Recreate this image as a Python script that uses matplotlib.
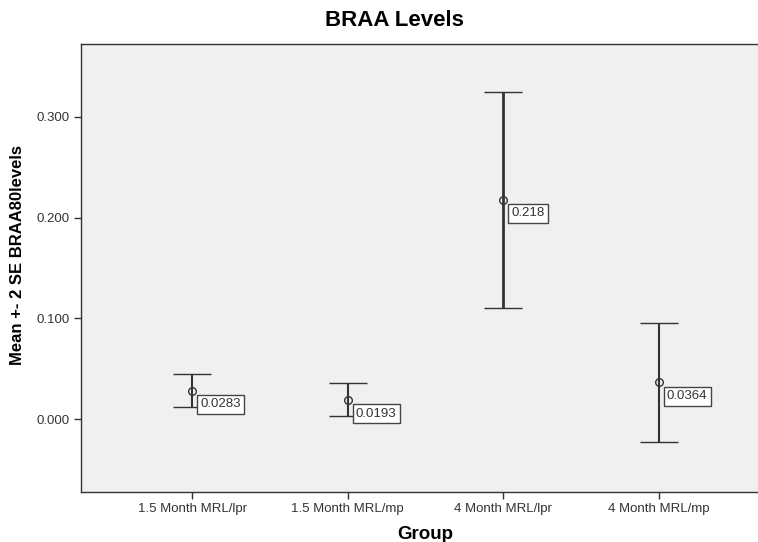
import matplotlib
matplotlib.use('Agg')
import matplotlib.pyplot as plt
import numpy as np

groups = ['1.5 Month MRL/lpr', '1.5 Month MRL/mp', '4 Month MRL/lpr', '4 Month MRL/mp']
means = [0.0283, 0.0193, 0.218, 0.0364]
upper = [0.0447, 0.0357, 0.3247, 0.0953]
lower = [0.0119, 0.0030, 0.1100, -0.0228]
labels = ['0.0283', '0.0193', '0.218', '0.0364']
widths = [1.5, 1.5, 2.0, 1.5]

plt.rcParams['font.family'] = ['Liberation Sans', 'DejaVu Sans']

fig = plt.figure(figsize=(7.58, 5.42), dpi=100)
ax = fig.add_axes([0.107, 0.092, 0.893, 0.827])
ax.set_facecolor('#f0f0f0')

x = np.arange(1, len(groups) + 1)
for xi, m, u, l, w, t in zip(x, means, upper, lower, widths, labels):
    ax.errorbar([xi], [m], yerr=[[m - l], [u - m]], fmt='o', mfc='none',
                mec='#333333', ms=5.5, mew=1.0, ecolor='#333333',
                elinewidth=w, capsize=13.5, capthick=w, zorder=3)
    ax.annotate(t, (xi, m), xytext=(6, -10), textcoords='offset points',
                ha='left', va='center', fontsize=9.5, color='#333333',
                bbox=dict(boxstyle='square,pad=0.25', fc='white', ec='#444444', lw=1))

ax.set_xlim(0.286, 4.64)
ax.set_ylim(-0.0725, 0.3725)
ax.set_xticks(x)
ax.set_xticklabels(groups, fontsize=9.5, color='#333333')
ax.set_yticks([0.0, 0.1, 0.2, 0.3])
ax.set_yticklabels(['0.000', '0.100', '0.200', '0.300'], fontsize=9.5, color='#333333')
ax.tick_params(length=5, width=1, color='#333333', pad=3)
ax.spines['right'].set_visible(False)
for s in ['left', 'bottom', 'top']:
    ax.spines[s].set_color('#333333')
    ax.spines[s].set_linewidth(1)

ax.set_ylabel('Mean +- 2 SE BRAA80levels', fontsize=12, fontweight='bold')
ax.yaxis.set_label_coords(-0.083, 0.53)
ax.set_xlabel('Group', fontsize=13.5, fontweight='bold')
ax.xaxis.set_label_coords(0.508, -0.075)
fig.text(0.52, 0.962, 'BRAA Levels', ha='center', va='center', fontsize=16, fontweight='bold')

fig.savefig('out.png', dpi=100)
